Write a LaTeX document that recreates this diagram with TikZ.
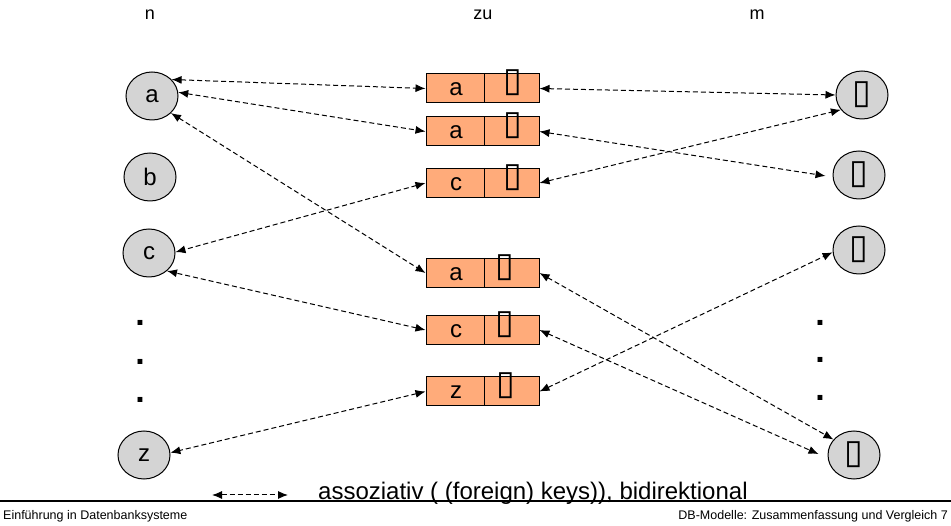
\documentclass[tikz,border=0pt]{standalone}
\usepackage{fontspec}
\setmainfont{Liberation Sans}
\newfontfamily\dejavu{DejaVu Sans}
\usetikzlibrary{shapes.geometric,arrows.meta}
\definecolor{boxorange}{RGB}{255,171,122}
\definecolor{circgray}{RGB}{212,212,212}
\tikzset{
  circ/.style={ellipse, draw, line width=1pt, fill=circgray, minimum width=52pt, minimum height=48pt, inner sep=0pt, font=\fontsize{24}{24}\selectfont},
  keybox/.style={rectangle, draw, line width=1pt, fill=boxorange, minimum width=113pt, minimum height=29pt, inner sep=0pt},
  lbl/.style={inner sep=0pt, font=\fontsize{24}{24}\selectfont},
  tofu/.style={inner sep=0pt, font=\dejavu\fontsize{34}{34}\selectfont},
  rel/.style={line width=1pt, dash pattern=on 5pt off 3pt, {Latex[length=10pt,width=8pt]}-{Latex[length=10pt,width=8pt]}},
  dotmark/.style={inner sep=0pt, font=\bfseries\fontsize{34}{34}\selectfont},
  head/.style={inner sep=0pt, font=\fontsize{18}{18}\selectfont},
  foot/.style={inner sep=0pt, font=\fontsize{12.5}{12.5}\selectfont},
}
\begin{document}
\begin{tikzpicture}[x=1pt,y=-1pt]
\useasboundingbox[fill=white] (0,0) rectangle (951,526);
% headings
\node[head] (hn) at (150,15) {n};
\node[head] (hzu) at (483,15) {zu};
\node[head] (hm) at (757,15) {m};
% left circles
\node[circ] (na) at (152,96) {a};
\node[circ] (nb) at (150,177) {b};
\node[circ] (nc) at (149,253) {c};
\node[circ] (nz) at (144,455) {z};
% right circles
\node[circ] (m1) at (862,95) {\dejavu\fontsize{34}{34}\selectfont ▯};
\node[circ] (m2) at (859,175) {\dejavu\fontsize{34}{34}\selectfont ▯};
\node[circ] (m3) at (859,250) {\dejavu\fontsize{34}{34}\selectfont ▯};
\node[circ] (m4) at (854,455) {\dejavu\fontsize{34}{34}\selectfont ▯};
% dots
\node[dotmark] (dl1) at (140,323) {.};
\node[dotmark] (dl2) at (140,362) {.};
\node[dotmark] (dl3) at (140,400) {.};
\node[dotmark] (dr1) at (820,323) {.};
\node[dotmark] (dr2) at (820,360) {.};
\node[dotmark] (dr3) at (820,398) {.};
% key boxes
\foreach \n/\y/\k/\tx in {b1/88.5/a/30, b2/131.5/a/30, b3/183/c/30, b4/273/a/22, b5/330/c/22, b6/391.5/z/23}{
  \node[keybox] (\n) at (482.5,\y) {};
  \draw[line width=1pt] ([xshift=1.5pt]\n.north) -- ([xshift=1.5pt]\n.south);
  \node[lbl] (\n k) at ([xshift=-26.5pt,yshift=-1pt]\n.center) {\k};
  \node[tofu] (\n v) at ([xshift=\tx pt,yshift=5.5pt]\n.center) {▯};
}
% relations
\draw[rel] (na.40) -- (b1.west);
\draw[rel] (na.8) -- (b2.west);
\draw[rel] (na.-42) -- (b4.west);
\draw[rel] (b1.east) -- (m1.180);
\draw[rel] (b2.east) -- ([xshift=-7pt]m2.182);
\draw[rel] (b3.east) -- (m1.215);
\draw[rel] (b3.west) -- (nc.2);
\draw[rel] (b5.west) -- (nc.-45);
\draw[rel] (b4.east) -- (m4.143);
\draw[rel] (b5.east) -- ([xshift=-9pt]m4.178);
\draw[rel] (b6.east) -- (m3.185);
\draw[rel] (b6.west) -- (nz.5);
% legend
\coordinate (l1) at (212,495);
\coordinate (l2) at (288,495);
\draw[rel] (l1) -- (l2);
\node[inner sep=0pt, anchor=base west, font=\fontsize{24}{24}\selectfont] (legend) at (318,500) {assoziativ ( (foreign) keys)), bidirektional};
% footer
\coordinate (fl) at (0,501);
\coordinate (fr) at (951,501);
\draw[line width=1.2pt] (fl) -- (fr);
\node[foot, anchor=base west] (f1) at (3,519) {Einführung in Datenbanksysteme};
\node[foot, anchor=base east] (f2) at (948,519) {DB-Modelle: Zusammenfassung und Vergleich 7};
\end{tikzpicture}
\end{document}
